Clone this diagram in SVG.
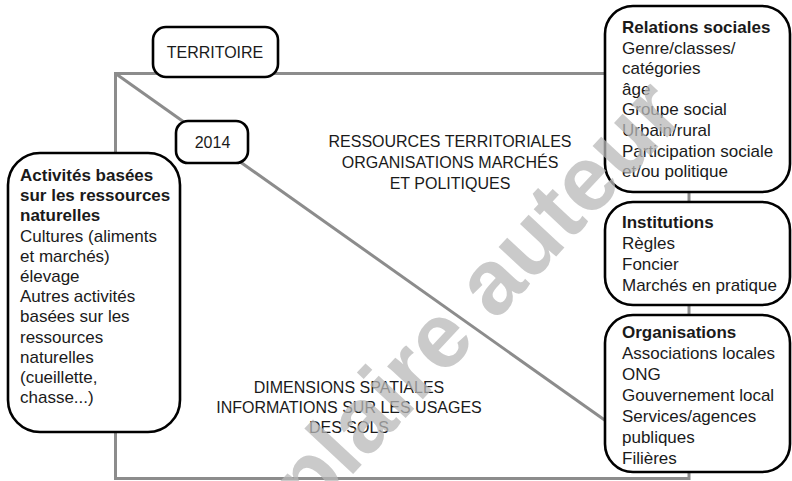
<svg xmlns="http://www.w3.org/2000/svg" width="792" height="481" viewBox="0 0 792 481">
<style>
  text { font-family: "Liberation Sans", Arial, Helvetica, sans-serif; fill: #1a1a1a; }
  .t17 { font-size: 17px; }
  .b { font-weight: bold; }
  .c16 { font-size: 16px; text-anchor: middle; }
  .box { fill: #ffffff; stroke: #000000; stroke-width: 2.6; }
  .conn { fill: none; stroke: #8c8c8c; stroke-width: 3; }
  .wm { font-size: 92px; font-weight: bold; fill: #b8b8b8; fill-opacity: 0.75; }
</style>
<rect width="792" height="481" fill="#ffffff"/>
<g id="connectors">
  <rect class="conn" x="115.5" y="73.5" width="573.5" height="405"/>
  <line class="conn" x1="115.5" y1="73.5" x2="606" y2="421"/>
</g>
<g id="labels">
  <text class="c16" x="450" y="147">RESSOURCES TERRITORIALES</text>
  <text class="c16" x="450" y="168">ORGANISATIONS MARCHÉS</text>
  <text class="c16" x="450" y="189">ET POLITIQUES</text>
  <text class="c16" x="349" y="393">DIMENSIONS SPATIALES</text>
  <text class="c16" x="349" y="413">INFORMATIONS SUR LES USAGES</text>
  <text class="c16" x="349" y="433">DES SOLS</text>
</g>
<g id="territoire">
  <rect class="box" x="153" y="27" width="125" height="50" rx="13"/>
  <text class="c16" x="215" y="58">TERRITOIRE</text>
</g>
<g id="annee">
  <rect class="box" x="176" y="121" width="72" height="42" rx="12"/>
  <text class="c16" x="212.5" y="148">2014</text>
</g>
<g id="activites">
  <rect class="box" x="8" y="153" width="172" height="279" rx="32"/>
  <text class="t17 b" x="20" y="181">Activités basées</text>
  <text class="t17 b" x="20" y="201.2">sur les ressources</text>
  <text class="t17 b" x="20" y="221.4">naturelles</text>
  <text class="t17" x="20" y="241.6">Cultures (aliments</text>
  <text class="t17" x="20" y="261.8">et marchés)</text>
  <text class="t17" x="20" y="282">élevage</text>
  <text class="t17" x="20" y="302.2">Autres activités</text>
  <text class="t17" x="20" y="322.4">basées sur les</text>
  <text class="t17" x="20" y="342.6">ressources</text>
  <text class="t17" x="20" y="362.8">naturelles</text>
  <text class="t17" x="20" y="383">(cueillette,</text>
  <text class="t17" x="20" y="403.2">chasse...)</text>
</g>
<g id="relations">
  <rect class="box" x="605" y="6" width="185" height="186" rx="28"/>
  <text class="t17 b" x="622" y="33">Relations sociales</text>
  <text class="t17" x="622" y="53.6">Genre/classes/</text>
  <text class="t17" x="622" y="74.2">catégories</text>
  <text class="t17" x="622" y="94.8">âge</text>
  <text class="t17" x="622" y="115.4">Groupe social</text>
  <text class="t17" x="622" y="136">Urbain/rural</text>
  <text class="t17" x="622" y="156.6">Participation sociale</text>
  <text class="t17" x="622" y="177.2">et/ou politique</text>
</g>
<g id="institutions">
  <rect class="box" x="605" y="202" width="185" height="103" rx="28"/>
  <text class="t17 b" x="622" y="228">Institutions</text>
  <text class="t17" x="622" y="249">Règles</text>
  <text class="t17" x="622" y="270">Foncier</text>
  <text class="t17" x="622" y="291">Marchés en pratique</text>
</g>
<g id="organisations">
  <rect class="box" x="605" y="315" width="185" height="157" rx="28"/>
  <text class="t17 b" x="622" y="338">Organisations</text>
  <text class="t17" x="622" y="359">Associations locales</text>
  <text class="t17" x="622" y="380">ONG</text>
  <text class="t17" x="622" y="401">Gouvernement local</text>
  <text class="t17" x="622" y="422">Services/agences</text>
  <text class="t17" x="622" y="443">publiques</text>
  <text class="t17" x="622" y="464">Filières</text>
</g>
<g id="watermark">
  <text class="wm" transform="translate(150 692) rotate(-47)" x="0" y="0">exemplaire auteur</text>
</g>
</svg>
